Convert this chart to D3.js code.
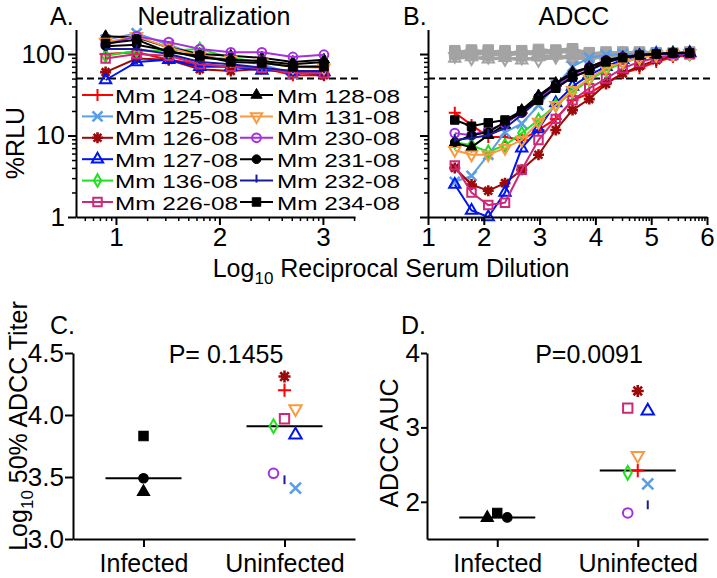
<!DOCTYPE html>
<html>
<head>
<meta charset="utf-8">
<script src="https://cdn.jsdelivr.net/npm/d3@7"></script>
<style>body { margin: 0; background: #fff; }</style>
</head>
<body>
<script>
(function () {
  'use strict';

  // ---- data ----
  // animals in legend order (left column, then right column)
  var animals = ['Mm 124-08', 'Mm 125-08', 'Mm 126-08', 'Mm 127-08', 'Mm 136-08', 'Mm 226-08',
                 'Mm 128-08', 'Mm 131-08', 'Mm 230-08', 'Mm 231-08', 'Mm 232-08', 'Mm 234-08'];
  var infected = ['Mm 128-08', 'Mm 231-08', 'Mm 234-08'];
  var groupNames = ['Infected', 'Uninfected'];

  // log10 reciprocal dilutions
  var neutDilution = [0.90, 1.20, 1.51, 1.81, 2.11, 2.41, 2.71, 3.01];
  var adccDilution = [1.48, 1.78, 2.08, 2.38, 2.68, 2.98, 3.29, 3.59, 3.89, 4.19, 4.49, 4.79, 5.09, 5.39, 5.69];

  // %RLU, neutralization (one row per animal, same order as animals)
  var neutralization = [
    [100, 105, 85, 75, 70, 68, 55, 55],
    [150, 180, 130, 95, 85, 75, 57, 62],
    [60, 88, 85, 65, 62, 66, 60, 55],
    [48, 80, 85, 70, 70, 63, 62, 60],
    [95, 110, 110, 115, 90, 78, 70, 72],
    [88, 100, 95, 75, 70, 68, 58, 58],
    [165, 160, 120, 100, 95, 90, 80, 85],
    [140, 165, 120, 95, 85, 78, 70, 68],
    [130, 165, 140, 115, 105, 105, 92, 98],
    [125, 130, 110, 90, 85, 82, 75, 80],
    [115, 115, 100, 80, 75, 68, 62, 62],
    [135, 150, 105, 95, 80, 78, 70, 70]
  ];

  // %RLU, ADCC
  var adcc = [
    [19, 13.5, 9.6, 9.6, 8.8, 11.7, 16, 27, 33, 44, 58, 67, 80, 92, 97],
    [2.7, 3.2, 5.8, 11, 14, 23.5, 41, 70, 90, 97, 100, 100, 102, 100, 103],
    [4.0, 2.5, 2.1, 2.6, 3.8, 5.8, 11.7, 20.5, 28, 43, 58, 71, 84, 94, 100],
    [2.5, 1.2, 1.0, 2.0, 7, 12, 25, 40, 55, 70, 85, 95, 100, 102, 103],
    [8.3, 7.6, 6.3, 7.6, 10.7, 15.5, 23.5, 34, 48, 63, 78, 90, 97, 100, 100],
    [4.3, 2.0, 1.4, 1.5, 3.8, 8.8, 16, 27, 38, 50, 67, 80, 90, 97, 100],
    [8.1, 7.2, 10.1, 13.5, 20.5, 31, 44, 60, 69, 80, 92, 97, 100, 103, 105],
    [6.6, 5.8, 5.8, 7, 8.8, 14.6, 23.5, 36, 50, 67, 80, 90, 97, 100, 102],
    [10.7, 10.1, 11.7, 14, 19, 29, 40, 55, 69, 84, 92, 97, 100, 101, 102],
    [8.3, 10.1, 11, 14.6, 19, 30, 43, 58, 69, 84, 92, 97, 100, 102, 103],
    [8.8, 9.3, 10.1, 12.3, 18, 27, 38, 52, 63, 78, 90, 97, 100, 101, 102],
    [15.5, 13, 14.3, 15.5, 20, 27, 38, 52, 63, 80, 90, 97, 100, 103, 103]
  ];

  // ADCC controls (grey)
  var adccControls = [
    [100, 108, 98, 104, 100, 108, 112, 116, 95, 100, 104, 100, 100, 98, 100],
    [88, 92, 86, 90, 84, 92, 96, 88, 96, 94, 100, 98, 102, 100, 104],
    [110, 102, 112, 100, 110, 104, 102, 114, 104, 98, 106, 104, 100, 103, 101],
    [94, 88, 92, 86, 90, 84, 92, 88, 88, 92, 96, 98, 100, 99, 102],
    [104, 112, 106, 110, 96, 114, 108, 104, 100, 106, 102, 106, 104, 100, 106],
    [96, 98, 102, 94, 104, 98, 90, 96, 92, 102, 98, 96, 98, 104, 98]
  ];

  var cutoff = 50;

  // log10 50% ADCC titer and ADCC AUC per animal
  var titer = [4.20, 3.41, 4.31, 3.84, 3.91, 3.97, 3.38, 4.05, 3.53, 3.49, 3.46, 3.83];
  var auc = [2.42, 2.24, 3.49, 3.22, 2.39, 3.26, 1.785, 2.62, 1.85, 1.79, 1.93, 1.85];
  // side-by-side slot of each point within its column
  var titerSlot = [0, 1, 0, 1, -1, 0, 0, 1, -1, 0, 0, 0];
  var aucSlot = [0, 1, 0, 1, -1, -1, -1, 0, -1, 1, 1, 0];

  var pText = ['P= 0.1455', 'P=0.0091'];

  // ---- styles ----
  var FONT = '"Liberation Sans", Arial, Helvetica, sans-serif';
  var styles = {
    'Mm 124-08': { color: '#ff0000', shape: 'plus' },
    'Mm 125-08': { color: '#5a9ee6', shape: 'cross' },
    'Mm 126-08': { color: '#9c0a0a', shape: 'star' },
    'Mm 127-08': { color: '#0014f0', shape: 'triangle', open: true },
    'Mm 136-08': { color: '#1ee01e', shape: 'diamond', open: true },
    'Mm 226-08': { color: '#cc2a78', shape: 'square', open: true },
    'Mm 128-08': { color: '#000000', shape: 'triangle' },
    'Mm 131-08': { color: '#f79a40', shape: 'triangleDown', open: true },
    'Mm 230-08': { color: '#a52ee0', shape: 'circle', open: true },
    'Mm 231-08': { color: '#000000', shape: 'circle' },
    'Mm 232-08': { color: '#1a1a9c', shape: 'tick' },
    'Mm 234-08': { color: '#000000', shape: 'square' }
  };
  var GREY = '#a3a3a3';
  var controlStyles = [
    { color: GREY, shape: 'square', big: true },
    { color: GREY, shape: 'triangle', open: true },
    { color: GREY, shape: 'square', big: true },
    { color: GREY, shape: 'triangleDown', open: true },
    { color: GREY, shape: 'square', big: true },
    { color: GREY, shape: 'plus' }
  ];

  var svg = d3.select('body').append('svg')
    .attr('width', 717).attr('height', 578)
    .style('font-family', FONT);

  function addMarker(g, st, x, y, k) {
    k = k || 1;
    var p, sym = null, area;
    switch (st.shape) {
      case 'plus':
        p = 'M-6,0H6M0,-6V6'; break;
      case 'cross':
        p = 'M-5,-5L5,5M-5,5L5,-5'; break;
      case 'tick':
        p = 'M0,-6V2'; break;
      case 'star':
        p = 'M-5.5,0H5.5M0,-5.5V5.5M-3.9,-3.9L3.9,3.9M-3.9,3.9L3.9,-3.9'; break;
      case 'triangle': sym = d3.symbolTriangle; area = 55; break;
      case 'triangleDown': sym = d3.symbolTriangle; area = 55; break;
      case 'square': sym = d3.symbolSquare; area = st.big ? 110 : 72; break;
      case 'circle': sym = d3.symbolCircle; area = 60; break;
      case 'diamond': sym = d3.symbolDiamond; area = 45; break;
    }
    var rot = st.shape === 'triangleDown' ? ' rotate(180)' : '';
    var tr = 'translate(' + x + ',' + y + ') scale(' + k + ')' + rot;
    if (sym) {
      g.append('path').attr('d', d3.symbol().type(sym).size(area)())
        .attr('transform', tr)
        .attr('fill', st.open ? 'none' : st.color)
        .attr('stroke', st.color).attr('stroke-width', st.open ? 2 / k : 1);
    } else {
      g.append('path').attr('d', p).attr('transform', tr)
        .attr('fill', 'none').attr('stroke', st.color)
        .attr('stroke-width', (st.shape === 'star' ? 2.6 : st.shape === 'cross' ? 2.6 : 2) / k);
      if (st.shape === 'star') {
        g.append('circle').attr('cx', x).attr('cy', y).attr('r', 2.5 * k).attr('fill', st.color);
      }
    }
  }

  function drawSeries(g, xs, ys, x, y, st, width) {
    var pts = xs.map(function (v, i) { return [v, ys[i]]; });
    var line = d3.line().x(function (d) { return x(d[0]); }).y(function (d) { return y(d[1]); });
    g.append('path').attr('d', line(pts)).attr('fill', 'none')
      .attr('stroke', st.color).attr('stroke-width', width || 2);
    pts.forEach(function (d) { addMarker(g, st, x(d[0]), y(d[1]), 1); });
  }

  function styleAxis(a) {
    a.attr('font-family', FONT).attr('font-size', 26);
    a.select('.domain').attr('stroke-width', 2);
    a.selectAll('.tick line').attr('stroke-width', 2);
    a.selectAll('.tick text').attr('fill', '#000');
  }

  function logMinors(lo, hi, scale) {
    var out = [];
    for (var n = -1; n < 7; n++) {
      for (var k = 2; k <= 9; k++) {
        var v = scale === 'exp' ? Math.pow(10, n) * k : n + Math.log10(k);
        if (v > lo && v < hi) out.push(v);
      }
    }
    return out;
  }

  function logYAxis(g, y, xPos, labels) {
    var major = d3.axisLeft(y).tickValues([1, 10, 100]).tickSize(8).tickSizeOuter(0).tickPadding(3)
      .tickFormat(labels ? d3.format('d') : '');
    var ga = g.append('g').attr('transform', 'translate(' + xPos + ',0)').call(major);
    styleAxis(ga);
    var minor = d3.axisLeft(y).tickValues(logMinors(1, 200, 'exp')).tickSize(4).tickFormat('');
    var gm = g.append('g').attr('transform', 'translate(' + xPos + ',0)').call(minor);
    gm.select('.domain').remove();
    gm.selectAll('.tick line').attr('stroke-width', 1.5);
  }

  function logXAxis(g, x, yPos, majors) {
    var d = x.domain();
    var major = d3.axisBottom(x).tickValues(majors).tickSize(8).tickSizeOuter(0).tickPadding(3)
      .tickFormat(d3.format('d'));
    var ga = g.append('g').attr('transform', 'translate(0,' + yPos + ')').call(major);
    styleAxis(ga);
    var minor = d3.axisBottom(x).tickValues(logMinors(d[0], d[1], 'lin')).tickSize(4).tickFormat('');
    var gm = g.append('g').attr('transform', 'translate(0,' + yPos + ')').call(minor);
    gm.select('.domain').remove();
    gm.selectAll('.tick line').attr('stroke-width', 1.5);
  }

  // ---- panel A: neutralization ----
  var xA = d3.scaleLinear().domain([0.614, 3.31]).range([76, 355]);
  var yA = d3.scaleLog().domain([1, 200]).range([217, 29.5]);
  var gA = svg.append('g');

  gA.append('line').attr('x1', 76).attr('x2', 360)
    .attr('y1', yA(cutoff)).attr('y2', yA(cutoff))
    .attr('stroke', '#000').attr('stroke-width', 2).attr('stroke-dasharray', '7,4');

  animals.forEach(function (a, i) {
    drawSeries(gA, neutDilution, neutralization[i], xA, yA, styles[a]);
  });
  logYAxis(gA, yA, 76, true);
  logXAxis(gA, xA, 217, [1, 2, 3]);

  // legend (rows are packed tight, so the text is slightly squeezed vertically)
  animals.forEach(function (a, i) {
    var col = i < 6 ? 0 : 1, row = i % 6;
    var x1 = col ? 240 : 82, x2 = col ? 273 : 113;
    var cy = 95 + row * 21.4;
    var st = styles[a];
    gA.append('line').attr('x1', x1).attr('x2', x2).attr('y1', cy).attr('y2', cy)
      .attr('stroke', st.color).attr('stroke-width', 2);
    addMarker(gA, st, (x1 + x2) / 2, cy, 1);
    gA.append('text').attr('x', col ? 277 : 115).attr('y', cy + 7.5)
      .attr('textLength', 123).attr('lengthAdjust', 'spacingAndGlyphs')
      .style('font-size', '19px').text(a);
  });

  svg.append('text').attr('x', 50).attr('y', 25).style('font-size', '25px').text('A.');
  svg.append('text').attr('x', 214).attr('y', 25).attr('text-anchor', 'middle')
    .style('font-size', '25px').text('Neutralization');
  svg.append('text').attr('transform', 'translate(24,143) rotate(-90)')
    .attr('text-anchor', 'middle').style('font-size', '25px').text('%RLU');

  // ---- panel B: ADCC ----
  var xB = d3.scaleLinear().domain([1, 6]).range([428, 707]);
  var yB = yA.copy();
  var gB = svg.append('g');

  adccControls.forEach(function (vals, i) {
    drawSeries(gB, adccDilution, vals, xB, yB, controlStyles[i], 3);
  });
  gB.append('line').attr('x1', 428).attr('x2', 710)
    .attr('y1', yB(cutoff)).attr('y2', yB(cutoff))
    .attr('stroke', '#000').attr('stroke-width', 2).attr('stroke-dasharray', '7,4');
  animals.forEach(function (a, i) {
    drawSeries(gB, adccDilution, adcc[i], xB, yB, styles[a]);
  });
  logYAxis(gB, yB, 428, false);
  logXAxis(gB, xB, 217, [1, 2, 3, 4, 5, 6]);

  svg.append('text').attr('x', 403).attr('y', 25).style('font-size', '25px').text('B.');
  svg.append('text').attr('x', 574).attr('y', 25).attr('text-anchor', 'middle')
    .style('font-size', '25px').text('ADCC');

  var xl = svg.append('text').attr('x', 391).attr('y', 277).attr('text-anchor', 'middle')
    .style('font-size', '25px');
  xl.append('tspan').text('Log');
  xl.append('tspan').attr('dy', 7).style('font-size', '17px').text('10');
  xl.append('tspan').attr('dy', -7).text(' Reciprocal Serum Dilution');

  // ---- panels C and D: scatter with medians ----
  function scatterPanel(opts) {
    var g = svg.append('g');
    var x = d3.scalePoint().domain(groupNames).range(opts.xRange).padding(0.5);
    var y = d3.scaleLinear().domain(opts.yDomain).range(opts.yRange);

    var ya = d3.axisLeft(y).tickValues(opts.yTicks).tickFormat(opts.yFormat)
      .tickSize(opts.tick).tickSizeOuter(0).tickPadding(1);
    var gy = g.append('g').attr('transform', 'translate(' + opts.xRange[0] + ',0)').call(ya);
    styleAxis(gy);
    var xa = d3.axisBottom(x).tickSize(8).tickSizeOuter(0).tickPadding(7);
    var gx = g.append('g').attr('transform', 'translate(0,' + opts.yRange[0] + ')').call(xa);
    styleAxis(gx);
    gx.attr('font-size', 25);

    groupNames.forEach(function (grp) {
      var vals = opts.values.filter(function (v, i) {
        return (infected.indexOf(animals[i]) >= 0) === (grp === 'Infected');
      });
      var m = d3.median(vals);
      g.append('line').attr('x1', x(grp) - 38).attr('x2', x(grp) + 38)
        .attr('y1', y(m)).attr('y2', y(m)).attr('stroke', '#000').attr('stroke-width', 2);
    });

    animals.forEach(function (a, i) {
      var grp = infected.indexOf(a) >= 0 ? 'Infected' : 'Uninfected';
      addMarker(g, styles[a], x(grp) + opts.slots[i] * opts.slotW, y(opts.values[i]), 1.1);
    });

    svg.append('text').attr('x', opts.letterX).attr('y', 334).style('font-size', '25px').text(opts.letter);
    svg.append('text').attr('x', opts.pX).attr('y', 363).attr('text-anchor', 'middle')
      .style('font-size', '25px').text(opts.p);
  }

  scatterPanel({
    xRange: [73, 355], yDomain: [3, 4.5], yRange: [539, 353],
    yTicks: [3, 3.5, 4, 4.5], yFormat: d3.format('.1f'), tick: 8,
    values: titer, slots: titerSlot, slotW: 11,
    letter: 'C.', letterX: 50, p: pText[0], pX: 226
  });
  scatterPanel({
    xRange: [427, 708], yDomain: [1.5, 4], yRange: [539, 353],
    yTicks: [2, 3, 4], yFormat: d3.format('d'), tick: 6,
    values: auc, slots: aucSlot, slotW: 10,
    letter: 'D.', letterX: 401, p: pText[1], pX: 589
  });

  var cl = svg.append('text').attr('transform', 'translate(27,426) rotate(-90)')
    .attr('text-anchor', 'middle').style('font-size', '25px');
  cl.append('tspan').text('Log');
  cl.append('tspan').attr('dy', 6).style('font-size', '17px').text('10');
  cl.append('tspan').attr('dy', -6).text(' 50% ADCC Titer');

  svg.append('text').attr('transform', 'translate(398,443) rotate(-90)')
    .attr('text-anchor', 'middle').style('font-size', '25px').text('ADCC AUC');
})();
</script>
</body>
</html>
